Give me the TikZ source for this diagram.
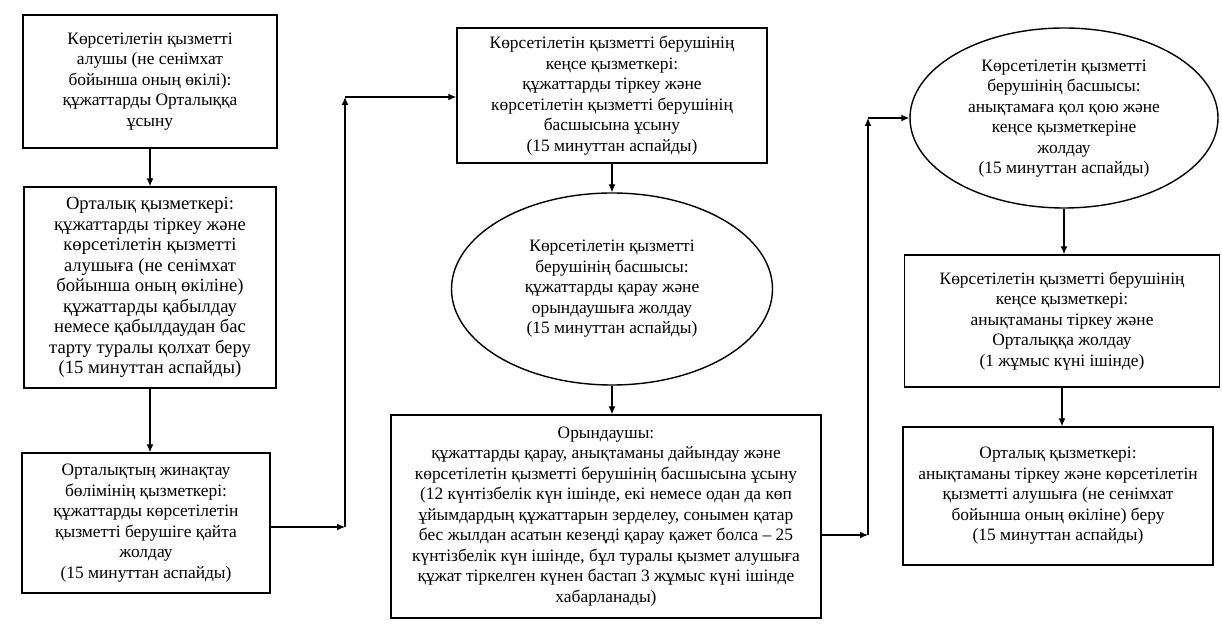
\documentclass[tikz,border=0pt]{standalone}
\usepackage{fontspec}
\setmainfont{Liberation Serif}
\usetikzlibrary{shapes.geometric,arrows.meta}

\begin{document}
\begin{tikzpicture}[x=0.5pt,y=-0.5pt,
    box/.style={draw=black,line width=0.7pt,rectangle,inner sep=0pt,align=center,font=\fontsize{8.7}{10.25}\selectfont},
    oval/.style={draw=black,line width=0.7pt,ellipse,inner sep=0pt,align=center,font=\fontsize{8.7}{10.25}\selectfont},
    arr/.style={line width=0.6pt,-{Latex[length=4pt,width=3.5pt]}}]
    \useasboundingbox (0,0) rectangle (1222,635);
    % first column
    \node[box,minimum width=127pt,minimum height=66.5pt] (alushy) at (150,81.5) {Көрсетілетін қызметті\\алушы (не сенімхат\\бойынша оның өкілі):\\құжаттарды Орталыққа\\ұсыну};
    \node[box,minimum width=126pt,minimum height=100.5pt,font=\fontsize{9.3}{10.25}\selectfont] (ortalyk) at (150,287.5) {Орталық қызметкері:\\құжаттарды тіркеу және\\көрсетілетін қызметті\\алушыға (не сенімхат\\бойынша оның өкіліне)\\құжаттарды қабылдау\\немесе қабылдаудан бас\\тарту туралы қолхат беру\\(15 минуттан аспайды)};
    \node[box,minimum width=124pt,minimum height=70pt] (zhinaktau) at (146,523) {Орталықтың жинақтау\\бөлімінің қызметкері:\\құжаттарды көрсетілетін\\қызметті берушіге қайта\\жолдау\\(15 минуттан аспайды)};
    % second column
    \node[box,minimum width=155pt,minimum height=67.5pt] (kense) at (612,95.5) {Көрсетілетін қызметті берушінің\\кеңсе қызметкері:\\құжаттарды тіркеу және\\көрсетілетін қызметті берушінің\\басшысына ұсыну\\(15 минуттан аспайды)};
    \node[oval,minimum width=160.5pt,minimum height=96pt] (basshy) at (612,289) {Көрсетілетін қызметті\\берушінің басшысы:\\құжаттарды қарау және\\орындаушыға жолдау\\(15 минуттан аспайды)};
    \node[box,minimum width=215pt,minimum height=101.5pt] (oryndaushy) at (606,516.5) {Орындаушы:\\құжаттарды қарау, анықтаманы дайындау және\\көрсетілетін қызметті берушінің басшысына ұсыну\\(12 күнтізбелік күн ішінде, екі немесе одан да көп\\ұйымдардың құжаттарын зерделеу, сонымен қатар\\бес жылдан асатын кезеңді қарау қажет болса -- 25\\күнтізбелік күн ішінде, бұл туралы қызмет алушыға\\құжат тіркелген күнен бастап 3 жұмыс күні ішінде\\хабарланады)};
    % third column
    \node[oval,minimum width=154pt,minimum height=90pt] (basshy2) at (1064,118) {\\[-4pt]Көрсетілетін қызметті\\берушінің басшысы:\\анықтамаға қол қою және\\кеңсе қызметкеріне\\жолдау\\(15 минуттан аспайды)};
    \node[box,minimum width=157.5pt,minimum height=66pt] (kense2) at (1062,321) {Көрсетілетін қызметті берушінің\\кеңсе қызметкері:\\анықтаманы тіркеу және\\Орталыққа жолдау\\(1 жұмыс күні ішінде)};
    \node[box,minimum width=155pt,minimum height=69pt] (ortalyk2) at (1058,496) {Орталық қызметкері:\\анықтаманы тіркеу және көрсетілетін\\қызметті алушыға (не сенімхат\\бойынша оның өкіліне) беру\\(15 минуттан аспайды)};
    % turning points
    \coordinate (t1) at (345,527);
    \coordinate (t2) at (345,97);
    \coordinate (t3) at (868,535);
    \coordinate (t4) at (868,118);
    % arrows
    \draw[arr] (alushy.south) -- (alushy.south |- ortalyk.north);
    \draw[arr] (ortalyk.south) -- (ortalyk.south |- zhinaktau.north);
    \draw[arr] (zhinaktau.east |- t1) -- (t1);
    \draw[arr] (t1) -- (t2);
    \draw[arr] (t2) -- (t2 -| kense.west);
    \draw[arr] (kense.south) -- (kense.south |- basshy.north);
    \draw[arr] (basshy.south) -- (basshy.south |- oryndaushy.north);
    \draw[arr] (t3 -| oryndaushy.east) -- (t3);
    \draw[arr] (t3) -- (t4);
    \draw[arr] (t4) -- (basshy2.west);
    \draw[arr] (basshy2.south) -- (basshy2.south |- kense2.north);
    \draw[arr] (kense2.south) -- (kense2.south |- ortalyk2.north);
\end{tikzpicture}
\end{document}
